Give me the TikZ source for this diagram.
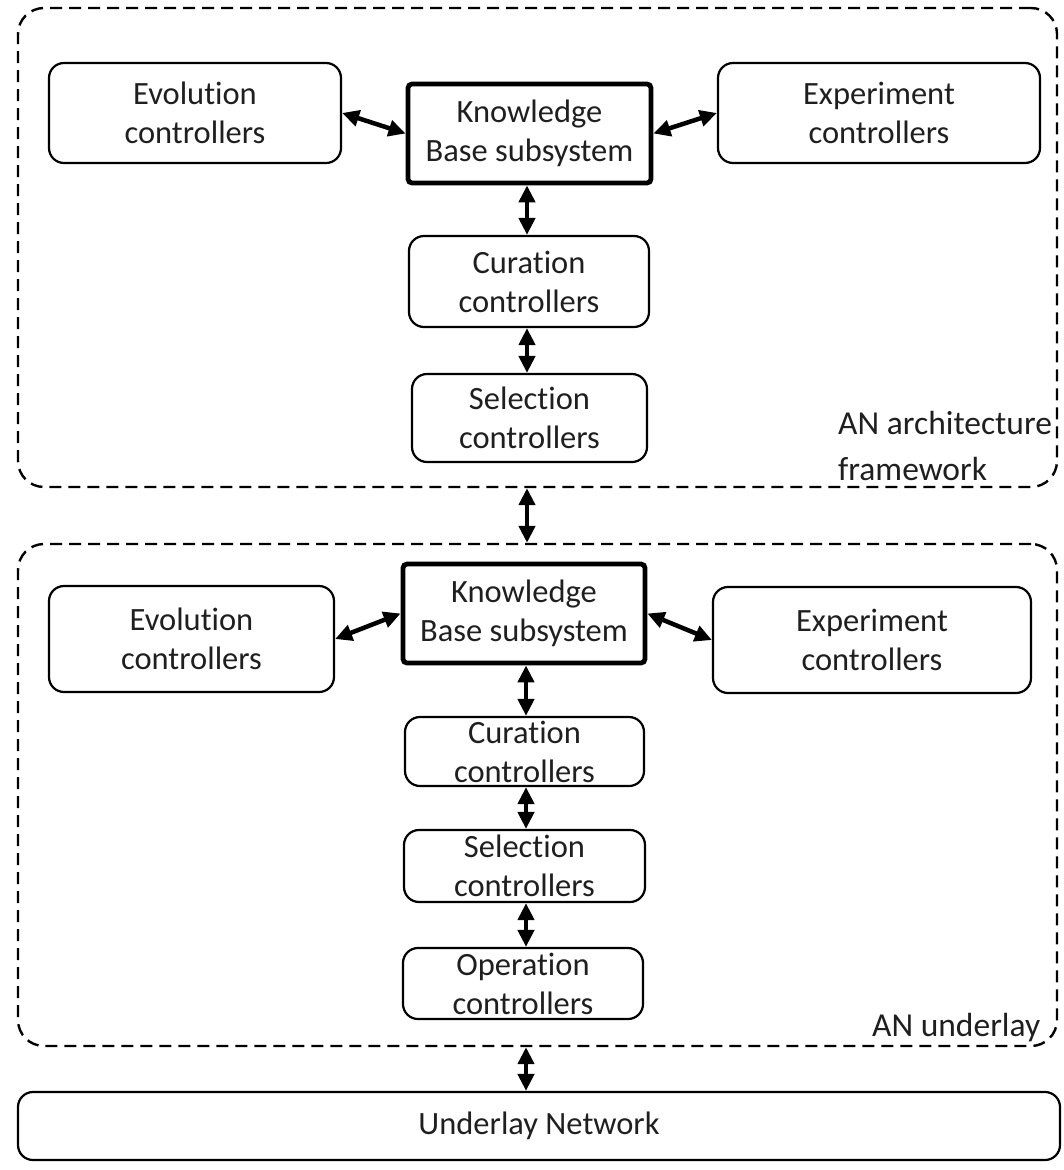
\documentclass[tikz,border=0pt]{standalone}
\usepackage{fontspec}
\setmainfont[Ligatures=NoCommon]{Carlito}
\usetikzlibrary{arrows.meta}
\begin{document}
\begin{tikzpicture}[x=1pt,y=-1pt,
  every node/.style={font=\fontsize{32.5}{39}\selectfont, text=black!88},
  ctrl/.style={draw, line width=2.2pt, rounded corners=15pt, inner sep=0pt, align=center},
  kbbox/.style={draw, line width=4.8pt, rounded corners=4pt, inner sep=0pt, align=center},
  frame/.style={draw, line width=2.4pt, dash pattern=on 12pt off 7pt, rounded corners=26pt, inner sep=0pt},
  biarr/.style={line width=4.5pt, {Triangle[length=17pt,width=16pt]}-{Triangle[length=17pt,width=16pt]}},
  lbl/.style={anchor=base west, inner sep=0pt, font=\fontsize{33.5}{40}\selectfont}
]
\useasboundingbox (0,0) rectangle (1063,1170);

% frames
\node[frame, minimum width=1039pt, minimum height=479pt] (f1) at (537.5,247.5) {};
\node[frame, minimum width=1039pt, minimum height=502pt] (f2) at (537.5,795) {};
\node[ctrl, rounded corners=15pt, minimum width=1042pt, minimum height=68pt] (under) at (539,1126) {Underlay Network};

% top section
\node[ctrl, minimum width=292pt, minimum height=100pt] (evo1) at (195,113) {Evolution\\controllers};
\node[kbbox, minimum width=243pt, minimum height=99pt] (kb1) at (529.5,133.5) {Knowledge\\Base subsystem};
\node[ctrl, minimum width=322pt, minimum height=100pt] (exp1) at (879,113) {Experiment\\controllers};
\node[ctrl, minimum width=240pt, minimum height=91pt] (cur1) at (529,281.5) {Curation\\controllers};
\node[ctrl, minimum width=235pt, minimum height=88pt] (sel1) at (529.5,418) {Selection\\controllers};
\node[lbl] (t1a) at (838,434) {AN architecture};
\node[lbl] (t1b) at (838,480) {framework};

% bottom section
\node[ctrl, minimum width=285pt, minimum height=106pt] (evo2) at (191.5,639) {Evolution\\controllers};
\node[kbbox, minimum width=242pt, minimum height=99pt] (kb2) at (524,613.5) {Knowledge\\Base subsystem};
\node[ctrl, minimum width=318pt, minimum height=106pt] (exp2) at (872,640) {Experiment\\controllers};
\node[ctrl, minimum width=239pt, minimum height=69pt] (cur2) at (524.5,751.5) {Curation\\controllers};
\node[ctrl, minimum width=241pt, minimum height=72pt] (sel2) at (524.5,866) {Selection\\controllers};
\node[ctrl, minimum width=240pt, minimum height=71pt] (op2) at (523,983.5) {Operation\\controllers};
\node[lbl] (t2) at (872,1036) {AN underlay};

% arrow axes
\coordinate (ax1) at (527,0);
\coordinate (ax2) at (526,0);

% top arrows
\draw[biarr] (evo1.east) -- (kb1.west);
\draw[biarr] (kb1.east) -- (exp1.west);
\draw[biarr] (ax1 |- kb1.south) -- (ax1 |- cur1.north);
\draw[biarr] (ax1 |- cur1.south) -- (ax1 |- sel1.north);
\draw[biarr] (ax1 |- f1.south) -- (ax1 |- f2.north);

% bottom arrows
\draw[biarr] (evo2.east) -- (kb2.west);
\draw[biarr] (kb2.east) -- (exp2.west);
\draw[biarr] (ax2 |- kb2.south) -- (ax2 |- cur2.north);
\draw[biarr] (ax2 |- cur2.south) -- (ax2 |- sel2.north);
\draw[biarr] (ax2 |- sel2.south) -- (ax2 |- op2.north);
\draw[biarr] (ax2 |- f2.south) -- (ax2 |- under.north);
\end{tikzpicture}
\end{document}
